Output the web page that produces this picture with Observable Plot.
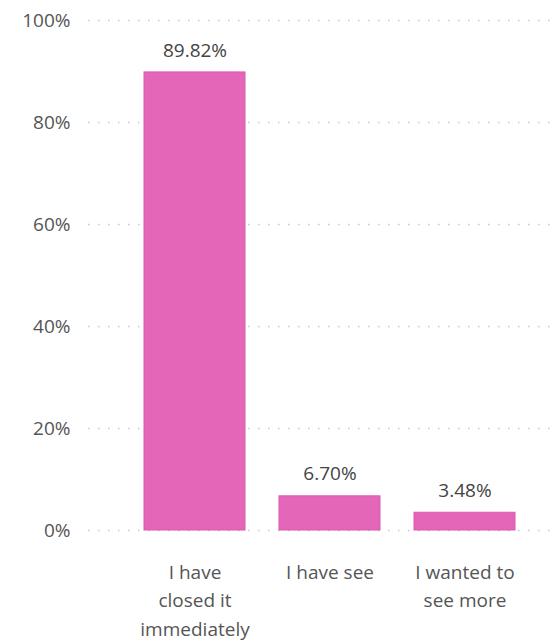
<!DOCTYPE html>
<html>
<head>
<meta charset="utf-8">
<script src="https://cdn.jsdelivr.net/npm/d3@7"></script>
<script src="https://cdn.jsdelivr.net/npm/@observablehq/plot@0.6"></script>
<style>
  html, body { margin: 0; padding: 0; background: #fff; }
</style>
</head>
<body>
<div id="chart"></div>
<script>
const categories = ["I have closed it immediately", "I have see", "I wanted to see more"];
const values = [89.82, 6.70, 3.48];
const tickLabels = ["I have\nclosed it\nimmediately", "I have see", "I wanted to\nsee more"];
const yTicks = [0, 20, 40, 60, 80, 100];

const data = categories.map((c, i) => ({category: c, value: values[i]}));

const chart = Plot.plot({
  width: 556,
  height: 643,
  marginTop: 20,
  marginBottom: 113,
  marginLeft: 88,
  marginRight: 6,
  style: {fontFamily: "'Open Sans', 'Noto Sans', sans-serif", fontSize: "19px", color: "#605E5C", background: "#fff"},
  x: {domain: categories, paddingInner: 0.25, paddingOuter: 0.33, align: 0.62},
  y: {domain: [0, 100]},
  marks: [
    Plot.ruleY(yTicks, {stroke: "#c8c8c8", strokeWidth: 1.5, strokeDasharray: "1.5,8.5"}),
    Plot.barY(data, {x: "category", y: "value", fill: "#E466B8", stroke: "#DA5AAE", strokeWidth: 1}),
    Plot.text(data, {x: "category", y: "value", text: d => d.value.toFixed(2) + "%", dy: -22, fill: "#444", fontSize: 19}),
    Plot.axisY(yTicks, {tickSize: 0, tickPadding: 18, tickFormat: d => d + "%", label: null, fontSize: 19, fill: "#555"}),
    Plot.axisX({tickSize: 0, tickPadding: 28, tickFormat: (d, i) => tickLabels[categories.indexOf(d)], label: null, fontSize: 19, lineHeight: 1.5, fill: "#555"})
  ]
});
document.getElementById("chart").appendChild(chart);
</script>
</body>
</html>
